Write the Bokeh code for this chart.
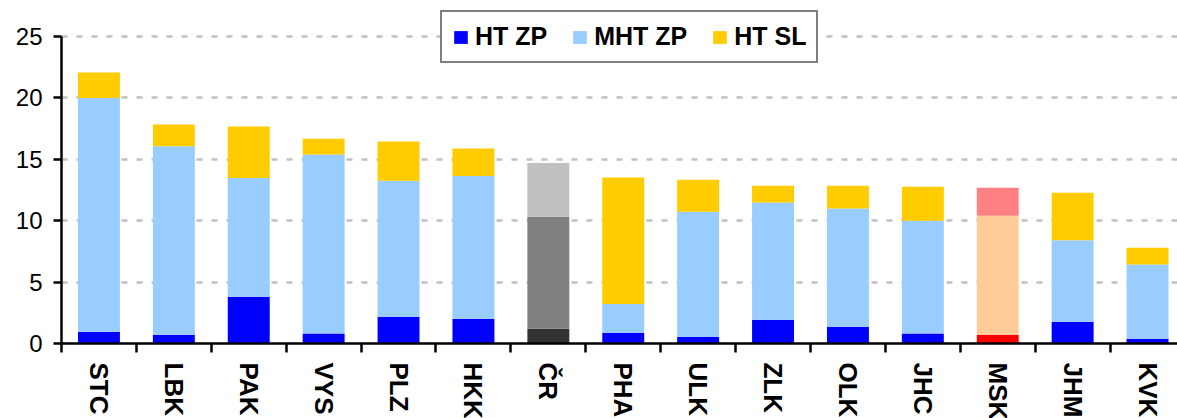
from bokeh.plotting import figure
from bokeh.models import ColumnDataSource, Range1d, FixedTicker, Legend, LegendItem
from bokeh.embed import file_html
from bokeh.resources import INLINE

categories = ["STC", "LBK", "PAK", "VYS", "PLZ", "HKK", "ČR", "PHA",
              "ULK", "ZLK", "OLK", "JHC", "MSK", "JHM", "KVK"]
ht_zp = [0.95, 0.71, 3.80, 0.82, 2.17, 2.01, 1.20, 0.87, 0.54, 1.93, 1.36, 0.82, 0.71, 1.77, 0.38]
mht_zp = [19.05, 15.35, 9.68, 14.56, 11.09, 11.63, 9.13, 2.34, 10.19, 9.56, 9.64, 9.18, 9.70, 6.63, 6.06]
ht_sl = [2.07, 1.77, 4.18, 1.30, 3.18, 2.23, 4.37, 10.30, 2.61, 1.36, 1.85, 2.77, 2.28, 3.88, 1.36]
series_names = ["HT ZP", "MHT ZP", "HT SL"]
y_ticks = [0, 5, 10, 15, 20, 25]

FONT = "Liberation Sans"
base_colors = ("#0000FF", "#99CCFF", "#FFCC00")
special_colors = {"ČR": ("#333333", "#808080", "#C0C0C0"),
                  "MSK": ("#FF0000", "#FFCC99", "#FF8080")}

n = len(categories)
xs = [i + 0.5 for i in range(n)]
t1 = list(ht_zp)
t2 = [a + b for a, b in zip(t1, mht_zp)]
t3 = [a + b for a, b in zip(t2, ht_sl)]
cols = [special_colors.get(c, base_colors) for c in categories]

src = ColumnDataSource(dict(
    x=xs, cat=categories, b1=[0] * n, t1=t1, t2=t2, t3=t3,
    c1=[c[0] for c in cols], c2=[c[1] for c in cols], c3=[c[2] for c in cols],
))

p = figure(frame_width=1116, frame_height=343, x_range=Range1d(0, 14.9), y_range=Range1d(0, 27.93),
           output_backend="svg", toolbar_location=None,
           min_border_left=61, min_border_right=0, min_border_top=0, min_border_bottom=0)
p.outline_line_color = None
p.background_fill_color = "white"
p.border_fill_color = "white"

p.xgrid.visible = False
p.ygrid.ticker = FixedTicker(ticks=[5, 10, 15, 20, 25])
p.ygrid.grid_line_color = "#C0C0C0"
p.ygrid.grid_line_dash = "6 9"
p.ygrid.grid_line_width = 2.5

r1 = p.vbar(x="x", width=0.56, bottom="b1", top="t1", fill_color="c1", line_color=None, source=src)
r2 = p.vbar(x="x", width=0.56, bottom="t1", top="t2", fill_color="c2", line_color=None, source=src)
r3 = p.vbar(x="x", width=0.56, bottom="t2", top="t3", fill_color="c3", line_color=None, source=src)

# y axis
ya = p.yaxis[0]
ya.ticker = FixedTicker(ticks=y_ticks)
ya.bounds = (0, 25)
ya.axis_line_width = 2.5
ya.axis_line_color = "black"
ya.major_tick_line_width = 2.5
ya.major_tick_line_color = "black"
ya.major_tick_out = 8
ya.major_tick_in = 0
ya.minor_tick_line_color = None
ya.major_label_text_font = FONT
ya.major_label_text_font_size = "24px"
ya.major_label_text_color = "black"
ya.major_label_standoff = 11

# x axis: labels at category centres, tick marks at category boundaries
xa = p.xaxis[0]
xa.ticker = FixedTicker(ticks=xs, minor_ticks=list(range(n + 1)))
overrides = {}
for xv, c in zip(xs, categories):
    overrides[xv] = c
    overrides[str(xv)] = c
xa.major_label_overrides = overrides
xa.axis_line_width = 2.5
xa.axis_line_color = "black"
xa.major_tick_line_color = None
xa.major_tick_out = 0
xa.major_tick_in = 0
xa.minor_tick_line_color = "black"
xa.minor_tick_line_width = 2.5
xa.minor_tick_out = 9
xa.minor_tick_in = 0
xa.major_label_orientation = "vertical"
xa.major_label_standoff = 10
xa.major_label_text_font = FONT
xa.major_label_text_font_style = "bold"
xa.major_label_text_font_size = "26px"
xa.major_label_text_color = "black"

legend = Legend(items=[LegendItem(label=series_names[0], renderers=[r1], index=0),
                       LegendItem(label=series_names[1], renderers=[r2], index=0),
                       LegendItem(label=series_names[2], renderers=[r3], index=0)],
                location=(379, 280), orientation="horizontal",
                glyph_width=17, glyph_height=16, label_standoff=6, spacing=24,
                padding=10, margin=0,
                border_line_color="black", border_line_width=2,
                background_fill_color="white", background_fill_alpha=1,
                label_text_font=FONT, label_text_font_style="bold",
                label_text_font_size="25px", label_text_color="black")
p.add_layout(legend)

open("out.html", "w").write(file_html(p, INLINE))
